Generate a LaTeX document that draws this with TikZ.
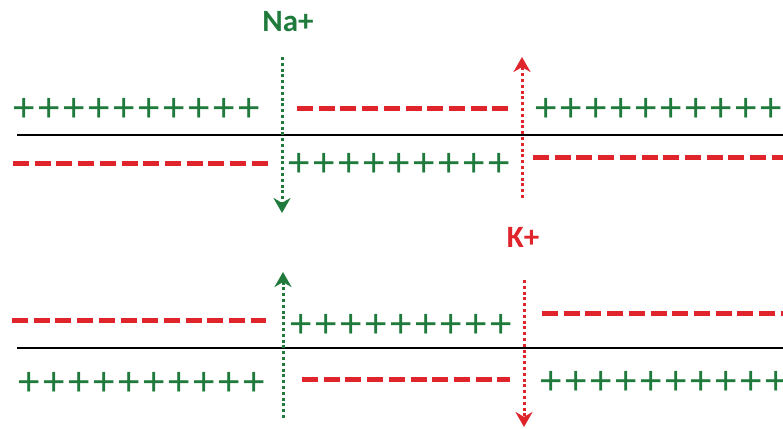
\documentclass[tikz,border=0pt]{standalone}
\usepackage{fontspec}
\setmainfont{Carlito}
\newfontfamily\chargefont{Liberation Sans}
\usetikzlibrary{arrows.meta}
\definecolor{iongreen}{RGB}{31,122,60}
\definecolor{ionred}{RGB}{224,36,43}
% a row of n plus charges, 25pt apart
\newcommand{\plusrow}[1]{\foreach \k in {1,...,#1}{\makebox[25pt]{+}}}

\begin{document}
\begin{tikzpicture}[x=1pt,y=-1pt,
      ion label/.style={font=\bfseries\fontsize{31}{31}\selectfont,inner sep=0},
      pos charge/.style={anchor=west,inner sep=0,text=iongreen,
          font=\chargefont\fontsize{40}{40}\selectfont},
      neg charge/.style={draw=ionred,line width=5pt,dash pattern=on 16pt off 5.7pt},
      membrane/.style={draw=black,line width=2.6pt},
      na flow/.style={draw=iongreen,line width=3pt,dash pattern=on 3pt off 2.8pt,
          -{Stealth[length=15pt,width=17pt]}},
      k flow/.style={na flow,draw=ionred}]

    \useasboundingbox (0,0) rectangle (783,428);

    \node[ion label, text=iongreen] (na) at (288,22) {Na+};
    \node[ion label, text=ionred] (k) at (523,237) {K+};

    \draw[membrane] (17,135) -- (783,135);
    \draw[membrane] (17,348) -- (783,348);

    % upper membrane (depolarised)
    \node[pos charge] (upTL) at (11,110) {\plusrow{10}};
    \draw[neg charge] (297,108) -- (510,108);
    \node[pos charge] (upTR) at (533,110) {\plusrow{10}};
    \draw[neg charge] (13,163) -- (270,163);
    \node[pos charge] (upBM) at (286,165) {\plusrow{9}};
    \draw[neg charge] (533,157) -- (800,157);

    % lower membrane (repolarised)
    \draw[neg charge] (12,320) -- (266,320);
    \node[pos charge] (loTM) at (288,326) {\plusrow{9}};
    \draw[neg charge] (542,313) -- (800,313);
    \node[pos charge] (loBL) at (16,384) {\plusrow{10}};
    \draw[neg charge] (302,379) -- (510,379);
    \node[pos charge] (loBR) at (538,383) {\plusrow{10}};

    % ion channels
    \coordinate (na in) at (282,57);
    \coordinate (na out) at (282,213);
    \coordinate (k out) at (522,198);
    \coordinate (k in) at (522,57);
    \coordinate (na back) at (283,418);
    \coordinate (na up) at (283,272);
    \coordinate (k top) at (524,280);
    \coordinate (k down) at (524,427);

    \draw[na flow] (na in) -- (na out);
    \draw[k flow] (k out) -- (k in);
    \draw[na flow] (na back) -- (na up);
    \draw[k flow] (k top) -- (k down);

  \end{tikzpicture}
\end{document}
